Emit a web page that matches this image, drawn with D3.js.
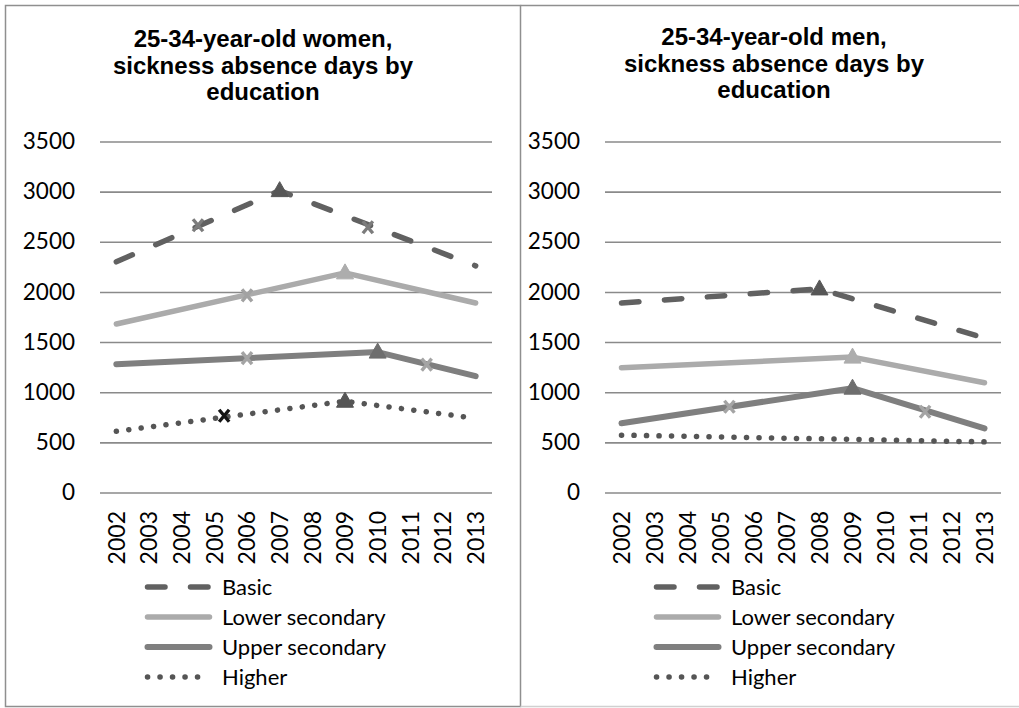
<!DOCTYPE html>
<html>
<head>
<meta charset="utf-8">
<script src="https://cdn.jsdelivr.net/npm/d3@7"></script>
<style>
  html, body { margin: 0; padding: 0; background: #fff; }
  svg { display: block; }
</style>
</head>
<body>
<svg id="chart" width="1019" height="708"></svg>
<script>
// Category labels and value ticks
const years = ["2002", "2003", "2004", "2005", "2006", "2007", "2008", "2009", "2010", "2011", "2012", "2013"];
const yTicks = [0, 500, 1000, 1500, 2000, 2500, 3000, 3500];
const seriesNames = ["Basic", "Lower secondary", "Upper secondary", "Higher"];

// Women, 25-34: [year, days]
const womenBasic = [[2002, 2300], [2007, 3010], [2013, 2260]];
const womenLower = [[2002, 1680], [2009, 2190], [2013, 1890]];
const womenUpper = [[2002, 1280], [2010, 1400], [2013, 1160]];
const womenHigher = [[2002, 610], [2009, 910], [2013, 740]];

// Men, 25-34: [year, days]
const menBasic = [[2002, 1890], [2008, 2030], [2013, 1540]];
const menLower = [[2002, 1245], [2009, 1350], [2013, 1095]];
const menUpper = [[2002, 690], [2009, 1040], [2013, 640]];
const menHigher = [[2002, 572], [2013, 505]];

// Point markers on the lines: [year, days, shape]
const womenBasicMarks = [[2004.5, 2665, "x"], [2007, 3010, "tri"], [2009.7, 2645, "x"]];
const womenLowerMarks = [[2006, 1965, "x"], [2009, 2190, "tri"]];
const womenUpperMarks = [[2006, 1340, "x"], [2010, 1400, "tri"], [2011.5, 1275, "x"]];
const womenHigherMarks = [[2005.3, 765, "x"], [2009, 910, "tri"]];
const menBasicMarks = [[2008, 2030, "tri"]];
const menLowerMarks = [[2009, 1350, "tri"]];
const menUpperMarks = [[2005.27, 855, "x"], [2009, 1040, "tri"], [2011.2, 805, "x"]];
const menHigherMarks = [];

// Line styles per education level
const styles = {
  "Basic":           { color: "#616161", width: 5.5, dash: "17.5,25.5", tri: "#575757", x: "#7c7c7c" },
  "Lower secondary": { color: "#ababab", width: 5.5, dash: null,    tri: "#adadad", x: "#a2a2a2" },
  "Upper secondary": { color: "#7f7f7f", width: 6,   dash: null,    tri: "#6e6e6e", x: "#a4a4a4" },
  "Higher":          { color: "#555555", width: 5.5, dash: "0.1,12.4", tri: "#555555", x: "#151515" }
};

const svg = d3.select("#chart");
svg.append("rect").attr("width", 1019).attr("height", 708).attr("fill", "#fff");

// Panel frames
svg.append("rect").attr("x", 5.5).attr("y", 5.5).attr("width", 515).attr("height", 701)
  .attr("fill", "none").attr("stroke", "#8f8f8f").attr("stroke-width", 1.5);
svg.append("line").attr("x1", 520.5).attr("x2", 1019).attr("y1", 5.5).attr("y2", 5.5)
  .attr("stroke", "#8f8f8f").attr("stroke-width", 1.5);
svg.append("line").attr("x1", 520.5).attr("x2", 1019).attr("y1", 706.5).attr("y2", 706.5)
  .attr("stroke", "#d0d0d0").attr("stroke-width", 1.5);

const labelFont = "Lato, 'Noto Sans', sans-serif";
const titleFont = "'Liberation Sans', Arial, sans-serif";

function drawPanel(opts) {
  const g = svg.append("g");
  const x0 = opts.left, x1 = opts.right;
  const y = d3.scaleLinear().domain([0, 3500]).range([492.5, 141.5]);
  const xb = d3.scaleBand().domain(years).range([x0, x1]).padding(0);
  const bw = xb.bandwidth();
  const xl = d3.scaleLinear().domain([2002, 2013])
    .range([xb("2002") + bw / 2, xb("2013") + bw / 2]);

  // Title
  const title = g.append("text")
    .attr("x", opts.titleX).attr("y", opts.titleY)
    .attr("text-anchor", "middle")
    .attr("font-family", titleFont).attr("font-weight", "bold")
    .attr("font-size", 24).attr("fill", "#000");
  opts.title.forEach((t, i) => {
    title.append("tspan").attr("x", opts.titleX).attr("dy", i === 0 ? 0 : 26.5).text(t);
  });

  // Gridlines and value axis
  const yAxis = d3.axisLeft(y).tickValues(yTicks).tickSize(-(x1 - x0)).tickPadding(25)
    .tickFormat(d3.format("d"));
  const ya = g.append("g").attr("transform", `translate(${x0},0)`).call(yAxis);
  ya.select(".domain").remove();
  ya.selectAll(".tick line").attr("stroke", "#8a8a8a").attr("stroke-width", 1.6);
  ya.selectAll(".tick text").attr("font-family", labelFont).attr("font-size", 22.5)
    .attr("fill", "#000");

  // Category axis (rotated year labels)
  const xa = g.append("g").attr("transform", "translate(0,511)");
  xa.selectAll("text").data(years).enter().append("text")
    .attr("transform", d => `translate(${xb(d) + bw / 2},0) rotate(-90)`)
    .attr("text-anchor", "end").attr("dy", "0.36em")
    .attr("font-family", labelFont).attr("font-size", 23).attr("fill", "#000")
    .text(d => d);

  // Series lines
  const line = d3.line().x(d => xl(d[0])).y(d => y(d[1]));
  opts.series.forEach((s, i) => {
    const st = styles[seriesNames[i]];
    g.append("path").datum(s.values).attr("d", line)
      .attr("fill", "none").attr("stroke", st.color).attr("stroke-width", st.width)
      .attr("stroke-linecap", "round").attr("stroke-linejoin", "round")
      .attr("stroke-dasharray", st.dash);
  });

  // Markers
  opts.series.forEach((s, i) => {
    const st = styles[seriesNames[i]];
    s.marks.forEach(m => {
      const cx = xl(m[0]), cy = y(m[1]);
      if (m[2] === "tri") {
        g.append("path").attr("d", "M0,-9L8.5,6L-8.5,6Z")
          .attr("transform", `translate(${cx},${cy})`)
          .attr("fill", st.tri).attr("stroke", st.tri).attr("stroke-width", 1)
          .attr("stroke-linejoin", "round");
      } else {
        g.append("path").attr("d", "M-5,-6L5,6M5,-6L-5,6")
          .attr("transform", `translate(${cx},${cy})`)
          .attr("fill", "none").attr("stroke", st.x).attr("stroke-width", 3.4);
      }
    });
  });

  // Legend
  const lg = g.append("g");
  seriesNames.forEach((name, i) => {
    const st = styles[name];
    const ly = 587 + i * 30;
    const sx0 = opts.legendX, sx1 = opts.legendX + 67;
    lg.append("line").attr("x1", sx0 + 2.5).attr("x2", sx1 - 2.5).attr("y1", ly).attr("y2", ly)
      .attr("stroke", st.color).attr("stroke-width", st.width)
      .attr("stroke-linecap", "round").attr("stroke-dasharray", st.dash);
    lg.append("text").attr("x", sx1 + 10).attr("y", ly).attr("dy", "0.35em")
      .attr("font-family", labelFont).attr("font-size", 22).attr("fill", "#000")
      .text(name);
  });
}

drawPanel({
  left: 100, right: 492, titleX: 263, titleY: 47, legendX: 145,
  title: ["25-34-year-old women,", "sickness absence days by", "education"],
  series: [
    { values: womenBasic, marks: womenBasicMarks },
    { values: womenLower, marks: womenLowerMarks },
    { values: womenUpper, marks: womenUpperMarks },
    { values: womenHigher, marks: womenHigherMarks }
  ]
});

drawPanel({
  left: 605, right: 1001, titleX: 774, titleY: 45, legendX: 654,
  title: ["25-34-year-old men,", "sickness absence days by", "education"],
  series: [
    { values: menBasic, marks: menBasicMarks },
    { values: menLower, marks: menLowerMarks },
    { values: menUpper, marks: menUpperMarks },
    { values: menHigher, marks: menHigherMarks }
  ]
});
</script>
</body>
</html>
